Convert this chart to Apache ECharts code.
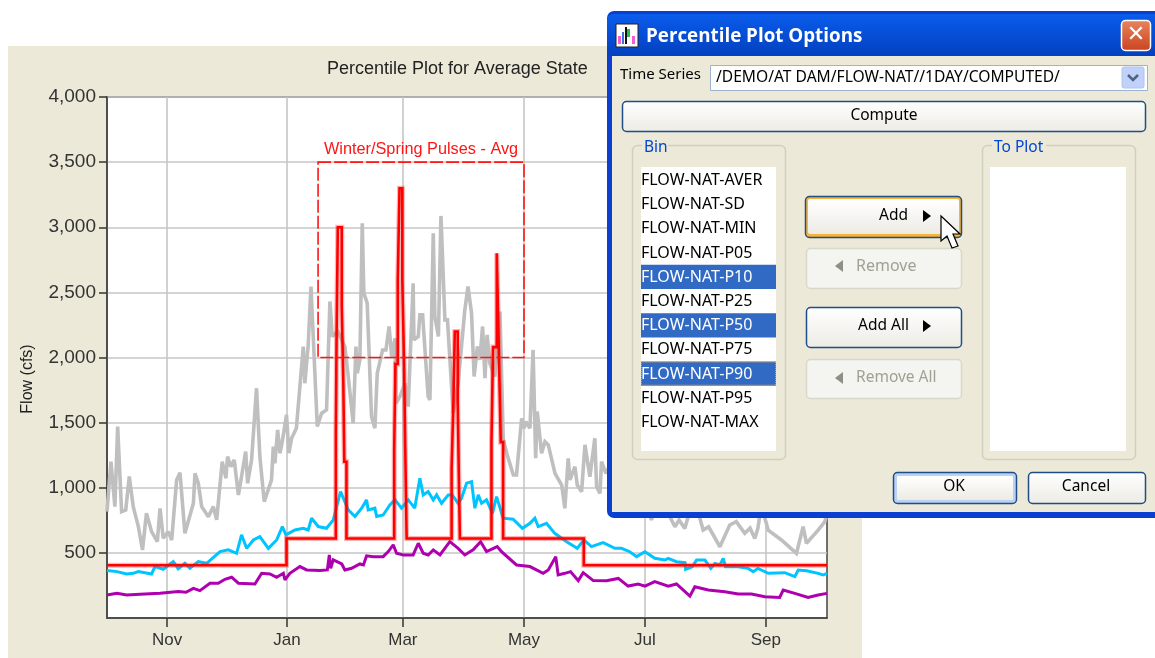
<!DOCTYPE html>
<html><head><meta charset="utf-8">
<style>html,body{margin:0;padding:0;background:#fff}#c{width:1155px;height:658px}</style>
<script src="https://cdn.jsdelivr.net/npm/echarts@6/dist/echarts.min.js"></script>
</head><body><div id="c"></div>
<script>
// Days are counted from 1 October; flows are in cfs.
const monthDays = [30.5, 91.2, 150, 211.4, 272.7, 334];
const monthLabels = ['Nov', 'Jan', 'Mar', 'May', 'Jul', 'Sep'];
const flowTicks = [500, 1000, 1500, 2000, 2500, 3000, 3500, 4000];

const grayDays = [0,2,4,5.4,7.4,9.5,11.3,13.3,15.9,18,20,22.6,25.5,26.9,28.5,31,32.8,35.3,37,39.5,43.8,44.6,46.3,48,51.4,53.9,55.6,58.4,60.3,61.1,62.8,64.5,66.6,68.2,70.3,71.3,73.3,75.8,77.5,79.7,83.4,84.3,85.1,86.5,87.7,89,91,92.2,93.6,96,99.5,100.3,101.2,102,103.4,106.6,108.8,111.3,113,114.2,117,120.6,122.3,124.8,126.2,126.9,128.2,129.4,130.2,131.9,134.1,135.8,137,139.7,141.4,143,144.3,146,146.5,148.5,151,152.7,155.2,155.6,157.8,158.6,160,162.8,163.7,165.4,166.2,168,169.3,171.3,172.6,175.5,178,181.4,183,184.8,186.1,187.8,189,190.4,191.6,192.7,194.1,196.6,199.2,200.9,202.9,206,207.6,210.2,211.4,212.4,214.4,216,217.3,218.1,219.1,220.3,222,223.7,227.1,230.5,232.1,233.8,234.7,237.2,238.4,240.6,242.3,244.8,247.3,248.2,249.9,250.7,252.9,256,260,264,268,272,276,280,284,287.9,290,292.9,297,300.5,302.2,305,310.7,315.7,319,323.3,326,328.4,330,332,333.5,335.2,341.9,349.5,352.9,354.6,360.5,363.9,365];
const grayFlow = [817,1201,855,1470,817,830,1086,855,702,522,804,663,586,842,612,663,599,1060,1116,650,881,1111,1034,855,778,855,753,1201,1073,1239,1162,1214,945,1086,1278,1034,1214,1764,1239,894,1060,1316,1188,1444,1265,1367,1560,1265,1380,1457,2084,1802,1802,2097,2545,1470,1572,1598,2430,2161,2200,2084,1854,1495,2084,1879,1982,3031,2494,2417,1546,1457,1879,2058,2058,2238,2007,2148,1649,1700,1802,1623,2570,2135,2161,2327,2327,1700,1674,2954,2314,2161,3087,2289,2289,1572,1800,2366,2545,2340,1854,2084,1982,2238,1841,2174,1956,1854,2353,1367,1252,1098,1098,1533,1457,1508,1457,2058,1226,1585,1585,1265,1354,1329,1111,1021,842,1226,1060,1162,1021,970,1329,1085,1380,1009,957,1200,1111,1200,950,1100,880,950,752,980,820,701,752,688,900,770,675,700,547,714,740,650,690,611,690,900,765,675,599,496,701,573,675,739,800];

const cyanDays = [0,5,10,13.3,15.9,22.6,24.3,28.5,33.6,36.1,39.5,42,46.3,50.5,57.3,61.5,65.7,68.2,70.8,74.2,77.5,81.8,86,88.9,90.7,95.3,99.5,102,103.7,107.1,111.3,114.7,118.4,122.3,125.7,129.1,131.6,132.4,135.8,136.7,140,143.4,146,149.3,152.7,156,158.6,160.3,162.8,165.4,167.1,169.6,173,175,178,179.7,182.3,184.8,186.5,188.2,189.9,192.4,195.4,197.5,200.8,205.9,210.6,214.4,216.9,218.6,222.8,227,233,238.4,241.7,245.6,251.5,257.5,260.8,265,268.5,272.7,277.7,282.8,284.5,288.7,293,293.3,296.7,298.9,303.1,306.1,308.2,310.7,312.4,313.5,320,325,327.6,330,335.2,343.6,348.7,350.4,354.6,360.5,363,365];
const cyanFlow = [364,356,338,343,356,338,395,374,433,377,420,382,433,420,510,523,497,638,535,599,625,535,599,702,638,676,689,676,766,702,689,753,971,830,779,843,907,830,843,779,791,868,907,843,907,843,1073,945,971,907,945,881,945,945,881,919,1035,1047,843,945,881,907,804,932,766,758,689,727,766,702,727,650,586,535,599,548,579,535,535,509,471,509,458,445,458,432,425,373,394,445,445,381,419,407,458,394,394,381,355,381,343,348,317,368,363,343,330,343];

const purpleDays = [0,5,10,16.7,26.9,36.1,40,43.8,47.1,52.2,56.4,59.8,63.2,66.6,75,78.4,82.6,86,89.4,90.2,92.7,97.8,101.2,108,111.7,112.7,113.4,114.7,119,120.6,124,128.2,130,131.6,135,140,142.6,145.1,146.8,150.2,155.2,157.8,160.3,162.8,165.4,168.8,173.8,178,181.4,185.6,189.4,192.4,197.8,200,207.6,214.4,221.1,223.7,227.5,228.7,232.1,235,238.9,241.4,246.5,253.2,259.2,264.2,269.3,272.7,277.7,284.5,288.7,295.5,298,304.8,313.2,320,326.7,333.5,341,342.8,348.7,355.4,360.5,365];
const purpleFlow = [177,190,177,182,190,203,198,228,210,267,267,297,313,267,261,343,338,313,343,292,343,395,369,364,369,484,382,446,415,369,382,415,407,477,471,471,510,561,497,484,484,574,497,484,523,484,586,535,484,523,586,510,548,510,407,395,343,369,471,331,343,356,287,348,287,286,304,245,261,245,279,245,261,168,240,215,202,184,184,163,158,215,189,158,176,189];

const redDays = [0,91,91,116,116,116.4,116.4,117,117,119,119,119.8,119.8,120.3,120.3,121.4,121.4,145.6,145.6,146.2,146.2,147.4,147.4,148.3,148.3,149.7,149.7,150.6,150.6,151.2,151.2,151.9,151.9,174.7,174.7,175.6,175.6,176.3,176.3,177.8,177.8,178.3,178.3,178.9,178.9,194.9,194.9,195.7,195.7,197.6,197.6,198.6,198.6,199.6,199.6,200.8,200.8,241.7,241.7,365];
const redFlow = [405,405,610,610,1400,1400,2200,2200,3000,3000,2400,2400,1800,1800,1200,1200,610,610,1300,1300,1950,1950,2600,2600,3300,3300,2600,2600,1950,1950,1300,1300,610,610,1150,1150,1650,1650,2200,2200,1650,1650,1150,1150,610,610,1350,1350,2080,2080,2800,2800,2080,2080,1350,1350,610,610,405,405];

const pairs = (xs, ys) => xs.map((x, i) => [x, ys[i]]);
const pulseBox = { label: 'Winter/Spring Pulses - Avg', fromDay: 107, toDay: 211.4, low: 2000, high: 3500 };

const titleText = 'Percentile Plot for Average State';
const yName = 'Flow (cfs)';
const binItems = ['FLOW-NAT-AVER','FLOW-NAT-SD','FLOW-NAT-MIN','FLOW-NAT-P05','FLOW-NAT-P10','FLOW-NAT-P25','FLOW-NAT-P50','FLOW-NAT-P75','FLOW-NAT-P90','FLOW-NAT-P95','FLOW-NAT-MAX'];
const binSelected = ['FLOW-NAT-P10','FLOW-NAT-P50','FLOW-NAT-P90'];

// ---- dialog drawing helpers (window chrome, not chart marks) ----
const FONT = '"Noto Sans","Open Sans",sans-serif';
const Z = 100;
const rect = (x,y,w,h,fill,stroke,r,lw) => ({type:'rect',z:Z,silent:true,shape:{x,y,width:w,height:h,r:r||0},style:{fill:fill||'none',stroke:stroke||'none',lineWidth:lw||1}});
const txt = (x,y,s,o) => { o=o||{}; return {type:'text',z:Z+1,silent:true,x,y:y+1,style:{text:s,fill:o.fill||'#000',font:(o.weight||'normal')+' '+(o.size||15.5)+'px '+(o.family||FONT),textAlign:o.align||'left',textVerticalAlign:'middle'}}; };
const poly = (pts,fill,stroke,lw) => ({type:'polygon',z:Z+2,silent:true,shape:{points:pts},style:{fill:fill,stroke:stroke||'none',lineWidth:lw||1}});
const vgrad = (a,b) => ({type:'linear',x:0,y:0,x2:0,y2:1,colorStops:[{offset:0,color:a},{offset:1,color:b}]});
const BTN = vgrad('#FFFFFF','#ECEBE4');
const button = (x,y,w,h) => rect(x+.5,y+.5,w,h,BTN,'#1F4E86',4,1.5);
const disabled = (x,y,w,h) => rect(x+.5,y+.5,w,h,'#F4F4F0','#D8D8CC',4,1.5);
const triR = (x,y) => poly([[x,y-6],[x+8,y],[x,y+6]],'#000');
const triL = (x,y) => poly([[x+8,y-6],[x,y],[x+8,y+6]],'#8f8f86');

const dlg = [];
dlg.push(rect(607,11,600,507,'#0A3FCF',null,7));
dlg.push(rect(607,14,600,42,vgrad('#0A5CEB','#0340C0'),null,6));
dlg.push(rect(612,56,600,456,'#ECE9D8'));
// icon
dlg.push(rect(616,24,22,23,'#fff','#222',0,1));
dlg.push(rect(618,36,3,8,'#F060D0'));dlg.push(rect(622,32,2,12,'#4070E0'));dlg.push(rect(625,27,2,17,'#111'));dlg.push(rect(627,29,3,8,'#22C040'));dlg.push(rect(632,36,3,8,'#F060D0'));
dlg.push(txt(646,36,'Percentile Plot Options',{fill:'#fff',weight:'bold',size:18.8,family:'"Open Sans","Noto Sans",sans-serif'}));
// close
dlg.push(rect(1121.5,20.5,29,30,vgrad('#E8855F','#C9431F'),'#fff',4,1.5));
dlg.push(txt(1136,34,'\u2715',{fill:'#fff',weight:'bold',size:22,align:'center',family:'"DejaVu Sans",sans-serif'}));
// time series row
dlg.push(txt(620,74,'Time Series',{size:15}));
dlg.push(rect(710.5,65.5,437,25,'#fff','#9DB4D0',0,1));
dlg.push(txt(716,77,'/DEMO/AT DAM/FLOW-NAT//1DAY/COMPUTED/',{size:15.6}));
dlg.push(rect(1122,67,22,21,'#C1D2FA','#AEC4F0',2,1));
dlg.push({type:'polyline',z:Z+2,silent:true,shape:{points:[[1128,75],[1133,80],[1138,75]]},style:{stroke:'#4D6185',lineWidth:2.5,fill:'none'}});
// compute
dlg.push(button(622,101,523,30));
dlg.push(txt(884,115,'Compute',{align:'center'}));
// group boxes
dlg.push(rect(632.5,145.5,153,314,'none','#D0D0BF',5,1.5));
dlg.push(rect(982.5,145.5,153,314,'none','#D0D0BF',5,1.5));
dlg.push(rect(642,142,26,8,'#ECE9D8'));
dlg.push(rect(992,142,54,8,'#ECE9D8'));
dlg.push(txt(644,147,'Bin',{fill:'#0046D5'}));
dlg.push(txt(994,147,'To Plot',{fill:'#0046D5'}));
dlg.push(rect(641,167,135,284,'#fff'));
dlg.push(rect(990,167,136,284,'#fff'));
binItems.forEach((s,i)=>{
  const cy = 180 + i*24.2;
  const sel = binSelected.includes(s);
  if (sel) dlg.push(rect(641,cy-12,135,24.2,'#316AC5'));
  if (s==='FLOW-NAT-P90') dlg.push({type:'rect',z:Z,silent:true,shape:{x:641.5,y:cy-11.5,width:134,height:23},style:{fill:'none',stroke:'#E5A33A',lineWidth:1,lineDash:[1,1]}});
  dlg.push(txt(641,cy-0.5,s,{fill:sel?'#fff':'#000',size:16}));
});
// middle buttons
dlg.push(rect(805.5,196.5,156,41,'#F7B33A','#1F4E86',4,1.5));
dlg.push(rect(808,199,151,35,BTN,null,2));
dlg.push(txt(879,215,'Add')); dlg.push(triR(923,216));
dlg.push(disabled(806,248,155,40));
dlg.push(txt(856,265,'Remove',{fill:'#A0A094',size:16})); dlg.push(triL(835,266));
dlg.push(button(806,307,155,40));
dlg.push(txt(858,325,'Add All')); dlg.push(triR(923,326));
dlg.push(disabled(806,359,155,39));
dlg.push(txt(856,377,'Remove All',{fill:'#A0A094'})); dlg.push(triL(835,378));
// ok / cancel
dlg.push(rect(893.5,472.5,123,31,'#BCD2F5','#1F4E86',4,1.5));
dlg.push(rect(897,476,116,24,BTN,null,1));
dlg.push(txt(954,486,'OK',{align:'center'}));
dlg.push(button(1028,472,117,31));
dlg.push(txt(1086,486,'Cancel',{align:'center'}));
// cursor
dlg.push(poly([[941,216],[941,241],[947,236],[952,248],[958,246],[953,234],[960,234]],'#fff','#000',1.2));

// ---- chart ----
const chart = echarts.init(document.getElementById('c'), null, {renderer:'canvas', width:1155, height:658});
const line = (name, xs, ys, color, width, z, extra) => Object.assign({
  name, type:'line', data:pairs(xs,ys), showSymbol:false, symbol:'none', silent:true, z,
  lineStyle:{color, width, join:'miter', miterLimit:2}, animation:false
}, extra||{});
chart.setOption({
  animation:false,
  backgroundColor:'#fff',
  title:{text:titleText,left:327,top:60,padding:0,textStyle:{fontFamily:'"Liberation Sans",Arial,sans-serif',fontSize:18,fontWeight:'normal',color:'#222'}},
  grid:{left:107,top:97,width:720,height:521,show:true,backgroundColor:'#fff',borderColor:'#444',borderWidth:1.5,containLabel:false},
  xAxis:{type:'value',min:0,max:365,
    axisLine:{show:true,lineStyle:{color:'#444',width:1.5}},
    axisTick:{show:true,length:9,lineStyle:{color:'#333',width:1.5},customValues:monthDays},
    axisLabel:{customValues:monthDays,margin:14,fontFamily:'"Liberation Sans",Arial,sans-serif',fontSize:17,color:'#333',
      formatter:v=>monthLabels[monthDays.indexOf(v)]||''},
    splitLine:{show:true,lineStyle:{color:'#c6c6c6',width:1.6}}},
  yAxis:{type:'value',min:0,max:4000,interval:500,
    axisLine:{show:true,lineStyle:{color:'#444',width:1.5}},
    axisTick:{show:true,length:8,lineStyle:{color:'#333',width:1.5},customValues:flowTicks},
    axisLabel:{customValues:flowTicks,margin:11,fontFamily:'"Liberation Sans",Arial,sans-serif',fontSize:19,color:'#333',
      formatter:v=>v.toLocaleString('en-US')},
    splitLine:{show:true,lineStyle:{color:'#c6c6c6',width:1.6}}},
  series:[
    line('Max',grayDays,grayFlow,'#bfbfbf',3.6,2),
    line('P90',cyanDays,cyanFlow,'#00C4FF',3,3),
    line('P10',purpleDays,purpleFlow,'#AE00AE',3,3),
    line('Avg halo',redDays,redFlow,'rgba(255,40,40,0.35)',5,4),
    line('Avg',redDays,redFlow,'#FF0000',2.6,5,{
      markArea:{silent:true,z:6,
        itemStyle:{color:'rgba(0,0,0,0)',borderColor:'#FF1515',borderWidth:1.6,borderType:[13,3]},
        label:{show:true,position:'top',distance:4,color:'#FF1515',fontFamily:'"Liberation Sans",Arial,sans-serif',fontSize:16.3,
          formatter:pulseBox.label},
        data:[[{xAxis:pulseBox.fromDay,yAxis:pulseBox.high},{xAxis:pulseBox.toDay,yAxis:pulseBox.low}]]}
    })
  ],
  graphic:{elements:[
    {type:'rect',z:-10,silent:true,shape:{x:8,y:46,width:854,height:612},style:{fill:'#ECE9D8'}},
    {type:'text',z:5,silent:true,x:28,y:379,rotation:Math.PI/2,style:{text:yName,fill:'#222',font:'16px "Liberation Sans",Arial,sans-serif',textAlign:'center',textVerticalAlign:'middle'}},
    ...dlg
  ]}
});
</script></body></html>
